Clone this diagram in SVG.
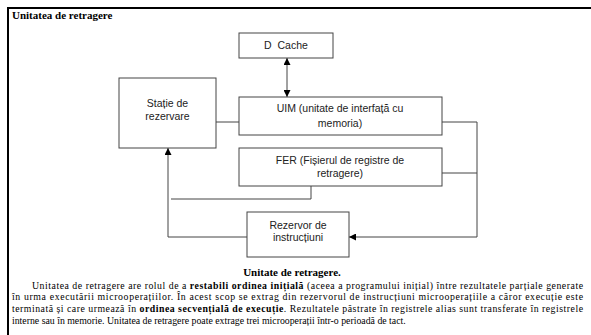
<svg xmlns="http://www.w3.org/2000/svg" width="591" height="335" viewBox="0 0 591 335">
<style>
.box{fill:#fff;stroke:#444;stroke-width:1}
.lbl{font-family:"Liberation Sans",Arial,sans-serif;font-size:10.5px;fill:#222;text-anchor:middle}
.ser{font-family:"Liberation Serif","Times New Roman",serif;font-size:11px;fill:#000}
.par{font-family:"Liberation Serif","Times New Roman",serif;font-size:9.8px;fill:#000}
.b{font-weight:bold}
.conn{fill:none;stroke:#444;stroke-width:1}
</style>
<defs>
<marker id="ah" viewBox="0 0 10 10" refX="10" refY="5" markerWidth="7" markerHeight="7" orient="auto-start-reverse" markerUnits="userSpaceOnUse">
<path d="M0,0 L10,5 L0,10 Z" fill="#000"/>
</marker>
</defs>
<rect width="591" height="335" fill="#fff"/>
<path d="M8,335 V8 H591" fill="none" stroke="#000" stroke-width="2"/>
<text class="ser b" x="12" y="19">Unitatea de retragere</text>

<g id="connectors">
<line class="conn" x1="287" y1="58" x2="287" y2="97" marker-start="url(#ah)" marker-end="url(#ah)"/>
<line class="conn" x1="216" y1="122" x2="239" y2="122"/>
<path class="conn" d="M311,186 V199 H171"/>
<path class="conn" d="M247,237 H168 V148" marker-end="url(#ah)"/>
<path class="conn" d="M442,122 H477 V237 H349" marker-end="url(#ah)"/>
<line class="conn" x1="442" y1="173" x2="477" y2="173"/>
</g>

<g id="dcache">
<rect class="box" x="239" y="33" width="94" height="25"/>
<text class="lbl" x="286" y="49">D&#160; Cache</text>
</g>
<g id="statie">
<rect class="box" x="119" y="78" width="97" height="70"/>
<text class="lbl" x="167.5" y="107">Stație de</text>
<text class="lbl" x="167.5" y="120">rezervare</text>
</g>
<g id="uim">
<rect class="box" x="239" y="97" width="203" height="38"/>
<text class="lbl" x="340" y="112">UIM (unitate de interfață cu</text>
<text class="lbl" x="340" y="127">memoria)</text>
</g>
<g id="fer">
<rect class="box" x="239" y="148" width="203" height="38"/>
<text class="lbl" x="340" y="164">FER (Fișierul de registre de</text>
<text class="lbl" x="340" y="177">retragere)</text>
</g>
<g id="rezervor">
<rect class="box" x="247" y="212" width="102" height="45"/>
<text class="lbl" x="298" y="229">Rezervor de</text>
<text class="lbl" x="298" y="241">instrucțiuni</text>
</g>

<text class="ser b" x="292" y="276" text-anchor="middle" font-size="10.5">Unitate de retragere.</text>
<text class="par" x="32" y="289" textLength="551" lengthAdjust="spacing">Unitatea de retragere are rolul de a <tspan class="b">restabili ordinea inițială</tspan> (aceea a programului inițial) între rezultatele parțiale generate</text>
<text class="par" x="12" y="300" textLength="571" lengthAdjust="spacing">în urma executării microoperațiilor. În acest scop se extrag din rezervorul de instrucțiuni microoperațiile a căror execuție este</text>
<text class="par" x="12" y="312" textLength="571" lengthAdjust="spacing">terminată și care urmează în <tspan class="b">ordinea secvențială de execuție</tspan>. Rezultatele păstrate în registrele alias sunt transferate în registrele</text>
<text class="par" x="12" y="324">interne sau în memorie. Unitatea de retragere poate extrage trei microoperații într-o perioadă de tact.</text>
</svg>
